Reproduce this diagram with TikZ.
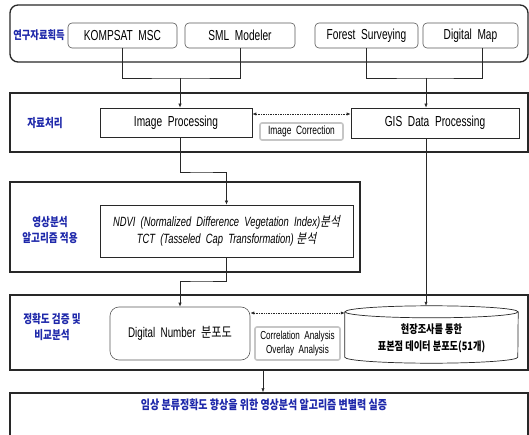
\documentclass[tikz,border=0pt]{standalone}
\usepackage{fontspec}
\setmainfont{Liberation Sans}[FakeStretch=0.7]
\newfontfamily\kr{Noto Sans CJK KR}[FakeStretch=0.8]
\newfontfamily\krit{Noto Sans CJK KR}[FakeStretch=0.8,FakeSlant=0.2]
\usetikzlibrary{arrows.meta}
\definecolor{lblue}{RGB}{30,40,170}
\definecolor{dline}{RGB}{40,40,40}
\tikzset{
  outerbox/.style={draw=dline, line width=1.3pt, inner sep=0pt},
  inbox/.style={draw=dline, line width=0.6pt, inner sep=0pt, align=center, font=\fontsize{14.5}{16}\selectfont},
  softbox/.style={draw=gray!45, line width=1.6pt, rounded corners=2pt, inner sep=0pt, align=center, font=\fontsize{12}{14}\selectfont},
  lab/.style={text=lblue, align=center, font=\kr\bfseries\fontsize{12}{16}\selectfont},
  conn/.style={draw=dline, line width=0.6pt},
  arr/.style={conn, -{Latex[length=4pt,width=3.2pt]}},
  darr/.style={draw=dline, line width=0.7pt, densely dotted, {Latex[length=4pt,width=3.2pt]}-{Latex[length=4pt,width=3.2pt]}},
}
\begin{document}
\begin{tikzpicture}[x=1pt,y=-1pt]
\useasboundingbox[fill=white] (0,0) rectangle (529,435);
% row 1
\node[outerbox, rounded corners=8pt, minimum width=518pt, minimum height=57pt] (b1) at (269,33.5) {};
\node[lab, font=\kr\bfseries\fontsize{11.6}{16}\selectfont] (l1) at (39,35) {연구자료획득};
\node[inbox, rounded corners=4pt, draw=gray!70!black, minimum width=109pt, minimum height=25pt] (kom) at (122.5,35.5) {KOMPSAT\ \ MSC};
\node[inbox, rounded corners=4pt, draw=gray!70!black, minimum width=110pt, minimum height=25pt] (sml) at (240,35.5) {SML\ \ Modeler};
\node[inbox, rounded corners=4pt, draw=gray!70!black, minimum width=103pt, minimum height=25pt] (for) at (366.5,35.5) {Forest\ \ Surveying};
\node[inbox, rounded corners=4pt, draw=gray!70!black, minimum width=95pt, minimum height=25pt] (dm) at (470.5,35.5) {Digital\ \ Map};
% row 2
\node[outerbox, minimum width=518pt, minimum height=59pt] (b2) at (269,122.5) {};
\node[lab] (l2) at (45,123) {자료처리};
\node[inbox, minimum width=152pt, minimum height=29pt] (ip) at (176,122.5) {Image\ \ Processing};
\node[inbox, minimum width=168pt, minimum height=30pt] (gis) at (435,123) {GIS\ \ Data\ \ Processing};
\node[softbox, minimum width=83pt, minimum height=17pt] (ic) at (301.5,131.5) {Image\ \ Correction};
% row 3
\node[outerbox, minimum width=350pt, minimum height=90pt] (b3) at (185,227) {};
\node[lab] (l3) at (50,230) {영상분석\\알고리즘 적용};
\node[inbox, minimum width=253pt, minimum height=52pt, font=\itshape\fontsize{13.4}{17}\selectfont] (ndvi) at (226.5,231) {NDVI\ \ (Normalized\ \ Difference\ \ Vegetation\ \ Index){\krit 분석}\\TCT\ \ (Tasseled\ \ Cap\ \ Transformation)\ {\krit 분석}};
% row 4
\node[outerbox, minimum width=518pt, minimum height=75pt] (b4) at (269,332.5) {};
\node[lab] (l4) at (52,327) {정확도 검증 및\\비교분석};
\node[inbox, rounded corners=9pt, draw=gray!70!black, minimum width=140pt, minimum height=53pt, font=\fontsize{14}{16}\selectfont] (dn) at (180,333.5) {Digital\ \ Number\ \ {\kr 분포도}};
\node[softbox, minimum width=85pt, minimum height=33pt, font=\fontsize{11.6}{14}\selectfont] (corr) at (297.5,343.5) {Correlation\ \ Analysis\\Overlay\ \ Analysis};
\node[inner sep=0pt, minimum width=173pt, minimum height=57pt, align=center, font=\kr\bfseries\fontsize{11.5}{17}\selectfont] (cyl) at (431.5,334.5) {\\[1pt]현장조사를 통한\\표본점 데이터 분포도(51개)};
\draw[conn, line width=0.7pt] ([yshift=-6pt]cyl.north) ellipse [x radius=86.5pt, y radius=6pt];
\draw[conn, line width=0.7pt] ([yshift=-6pt]cyl.north west) -- ([yshift=6pt]cyl.south west)
  arc[start angle=180, end angle=360, x radius=86.5pt, y radius=6pt] -- ([yshift=-6pt]cyl.north east);
% row 5
\node[outerbox, minimum width=518pt, minimum height=60pt] (b5) at (269,423) {};
\node[lab, font=\kr\bfseries\fontsize{12.5}{16}\selectfont] (l5) at (264,405) {임상 분류정확도 향상을 위한 영상분석 알고리즘 변별력 실증};
% connectors
\coordinate (j1) at (180,78);
\coordinate (j2) at (426,78);
\coordinate (j3) at (200,172);
\coordinate (j4) at (200,281);
\draw[conn] (kom.south) |- (j1) -| (sml.south);
\draw[arr] (j1) -- (j1 |- ip.north);
\draw[conn] (for.south) |- (j2) -| ([xshift=11.5pt]dm.south);
\draw[arr] (j2) -- (j2 |- gis.north);
\draw[darr] ([yshift=8.5pt]ip.east) -- ([yshift=8.5pt]ip.east -| gis.west);
\draw[arr] ([xshift=4pt]ip.south) |- (j3) -| (ndvi.north);
\draw[arr] (ndvi.south) |- (j4) -| (dn.north);
\draw[arr] ([xshift=-9pt]gis.south) -- ([xshift=-5.5pt]cyl.north);
\draw[darr] ([yshift=20.5pt]dn.east) -- ([yshift=20.5pt]dn.east -| cyl.west);
\draw[arr] ([xshift=-6pt]b4.south) -- ([xshift=-6pt]b5.north);
\end{tikzpicture}
\end{document}
